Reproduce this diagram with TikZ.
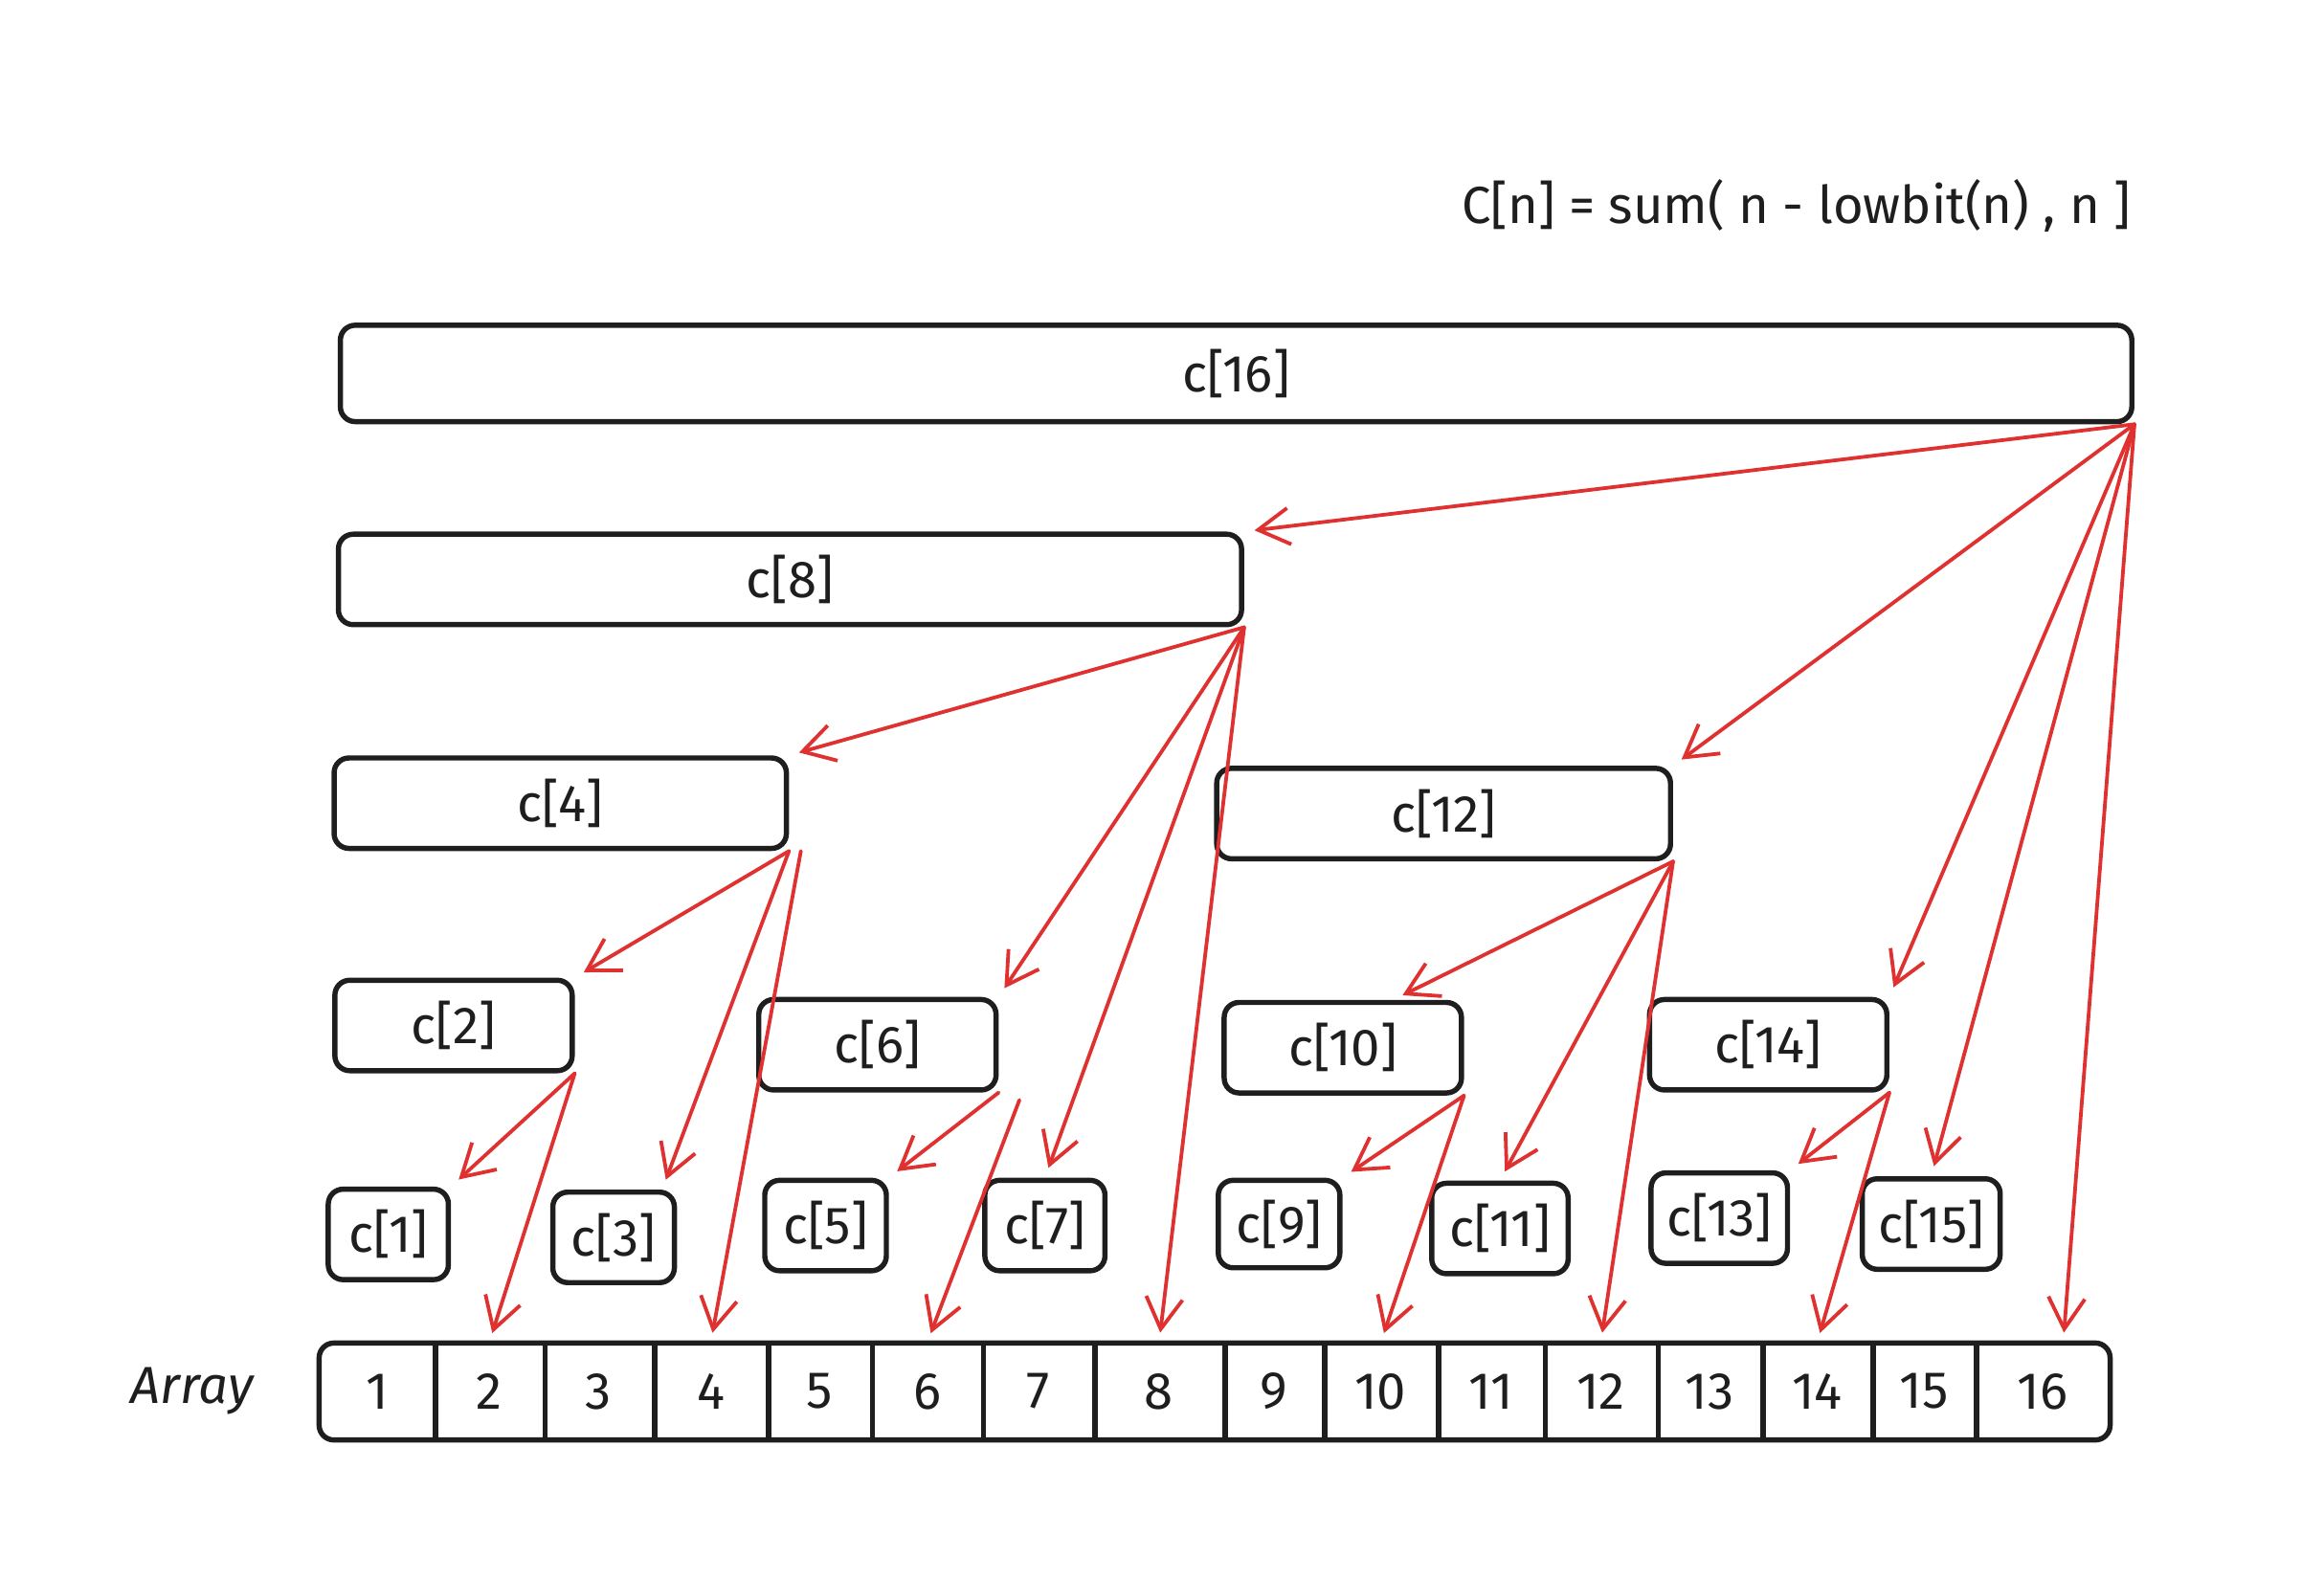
\documentclass[tikz,border=0pt]{standalone}
\usepackage{fontspec}
\setmainfont{Fira Sans}
\usepackage{xcolor}
\usepackage{tikz}
\usetikzlibrary{arrows.meta,positioning}

\definecolor{ink}{HTML}{1E1E1E}
\definecolor{exred}{HTML}{E03131}

\begin{document}
\begin{tikzpicture}[
    x=0.01cm, y=-0.01cm,
    cbox/.style={
        rectangle, rounded corners=1mm, draw=ink, line width=1pt,
        minimum height=0.61cm, inner sep=0pt, text=ink,
        font=\fontsize{10}{12}\selectfont
    },
    cell/.style={minimum height=0.64cm, inner sep=0pt, text=ink,
        font=\fontsize{10}{12}\selectfont},
    link/.style={-{Straight Barb[length=6pt,width=7pt]}, exred,
        line width=0.7pt, line cap=round, shorten >=2pt},
]
\useasboundingbox (0,0) rectangle (1568,1066);

% Formula
\node[text=ink, font=\fontsize{10}{12}\selectfont] (formula) at (1212,139)
    {C[n] = sum( n - lowbit(n) , n ]};

% Level 16 and 8
\node[cbox, minimum width=12.08cm, minimum height=0.65cm] (c16) at (834,252) {c[16]};
\node[cbox, minimum width=6.09cm] (c8) at (533,391) {c[8]};

% Level 4
\node[cbox, minimum width=3.05cm] (c4) at (378,542) {c[4]};
\node[cbox, minimum width=3.06cm] (c12) at (974,549) {c[12]};

% Level 2
\node[cbox, minimum width=1.60cm] (c2) at (306,692) {c[2]};
\node[cbox, minimum width=1.60cm] (c6) at (592,705) {c[6]};
\node[cbox, minimum width=1.60cm] (c10) at (906,707) {c[10]};
\node[cbox, minimum width=1.60cm] (c14) at (1193,705) {c[14]};

% Level 1
\node[cbox, minimum width=0.81cm] (c1) at (262,833) {c[1]};
\node[cbox, minimum width=0.82cm] (c3) at (414,835) {c[3]};
\node[cbox, minimum width=0.82cm] (c5) at (557,827) {c[5]};
\node[cbox, minimum width=0.81cm] (c7) at (705,827) {c[7]};
\node[cbox, minimum width=0.82cm, minimum height=0.59cm] (c9) at (863,826) {c[9]};
\node[cbox, minimum width=0.92cm] (c11) at (1012,829) {c[11]};
\node[cbox, minimum width=0.92cm] (c13) at (1160,822) {c[13]};
\node[cbox, minimum width=0.93cm] (c15) at (1303,826) {c[15]};

% Array cells
\foreach \n/\l/\r in {1/216/293, 2/293/367, 3/367/441, 4/441/518,
    5/518/588, 6/588/663, 7/663/738, 8/738/826, 9/826/893, 10/893/970,
    11/970/1042, 12/1042/1118, 13/1118/1189, 14/1189/1263,
    15/1263/1333, 16/1333/1423}
    \node[cell, minimum width={(\r-\l)*0.01cm}] (a\n) at ({(\l+\r)/2},939) {\n};
\draw[ink, line width=1pt, rounded corners=1mm] (a1.north west) rectangle (a16.south east);
\foreach \n in {1,...,15}
    \draw[ink, line width=1pt] (a\n.north east) -- (a\n.south east);
\node[left=0.32cm of a1, text=ink, font=\fontsize{10}{12}\selectfont\itshape] (arrlbl) {Array};

% Arrows from c[16]
\draw[link] (c16.south east) -- (c8.north east);
\draw[link] (c16.south east) -- (c12.north east);
\draw[link] (c16.south east) -- (c14.north east);
\draw[link] (c16.south east) -- (c15.north);
\draw[link] (c16.south east) -- ([xshift=0.14cm]a16.north);

% Arrows from c[8]
\draw[link] (c8.south east) -- (c4.north east);
\draw[link] (c8.south east) -- (c6.north east);
\draw[link] (c8.south east) -- (c7.north);
\draw[link] (c8.south east) -- (a8.north);

% Arrows from c[4] and c[12]
\draw[link] (c4.south east) -- (c2.north east);
\draw[link] (c4.south east) -- ([xshift=-1mm]c3.north east);
\draw[link] ([xshift=0.8mm]c4.south east) -- (a4.north);
\draw[link] (c12.south east) -- ([xshift=0.34cm]c10.north);
\draw[link] (c12.south east) -- (c11.north);
\draw[link] (c12.south east) -- (a12.north);

% Arrows from c[2], c[6], c[10], c[14]
\draw[link] (c2.south east) -- (c1.north east);
\draw[link] (c2.south east) -- (a2.north);
\draw[link] (c6.south east) -- (c5.north east);
\draw[link] ([xshift=1.4mm,yshift=-0.5mm]c6.south east) -- (a6.north);
\draw[link] (c10.south east) -- (c9.north east);
\draw[link] (c10.south east) -- (a10.north);
\draw[link] (c14.south east) -- (c13.north east);
\draw[link] (c14.south east) -- (a14.north);
\end{tikzpicture}
\end{document}
